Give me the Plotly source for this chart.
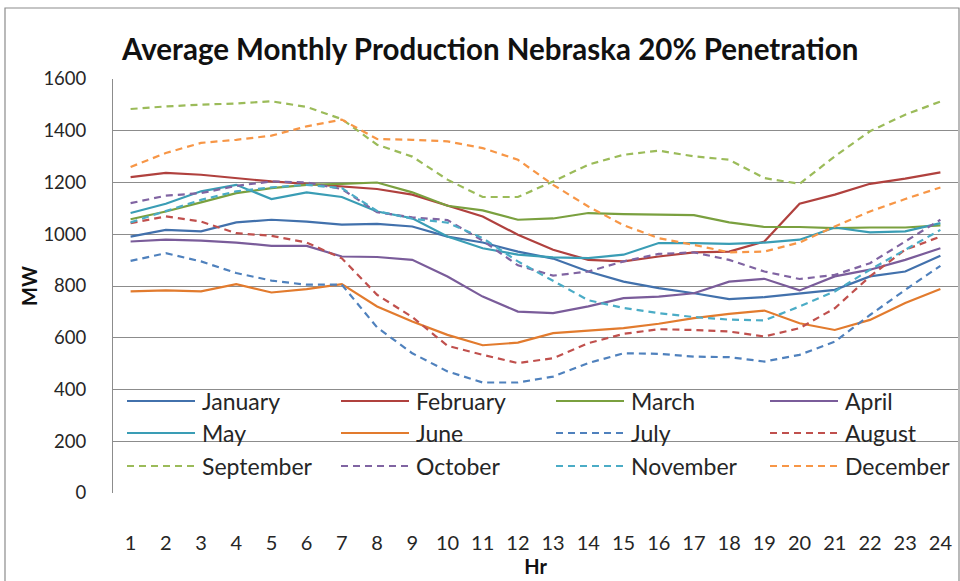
import plotly.graph_objects as go

hours = list(range(1, 25))
months = ["January", "February", "March", "April", "May", "June",
          "July", "August", "September", "October", "November", "December"]

january = [991, 1017, 1011, 1046, 1056, 1049, 1037, 1040, 1030, 991, 968, 933,
           906, 856, 817, 792, 772, 749, 757, 772, 785, 837, 856, 917]
february = [1221, 1237, 1230, 1217, 1204, 1195, 1185, 1175, 1153, 1110, 1069, 998,
            940, 901, 895, 914, 930, 933, 972, 1118, 1153, 1195, 1215, 1239]
march = [1058, 1088, 1123, 1159, 1178, 1191, 1195, 1200, 1162, 1110, 1092, 1056,
         1061, 1082, 1078, 1077, 1074, 1046, 1028, 1028, 1024, 1026, 1026, 1034]
april = [972, 979, 975, 968, 955, 955, 914, 912, 901, 837, 759, 701,
         695, 721, 753, 759, 772, 817, 828, 783, 837, 863, 901, 946]
may = [1082, 1118, 1166, 1191, 1136, 1162, 1144, 1088, 1062, 991, 946, 921,
       911, 908, 921, 966, 966, 963, 968, 979, 1026, 1007, 1011, 1043]
june = [779, 783, 779, 807, 775, 788, 807, 721, 663, 611, 571, 581,
        618, 628, 637, 654, 676, 692, 705, 656, 630, 669, 734, 788]
july = [897, 927, 895, 850, 821, 805, 805, 640, 540, 470, 427, 427,
        450, 502, 540, 538, 527, 525, 508, 534, 585, 688, 785, 878]
august = [1043, 1069, 1049, 1004, 994, 968, 907, 766, 680, 569, 534, 502,
          521, 579, 615, 633, 630, 624, 605, 637, 714, 837, 940, 991]
september = [1484, 1494, 1501, 1505, 1514, 1492, 1445, 1346, 1300, 1211, 1144, 1144,
             1204, 1269, 1307, 1323, 1301, 1288, 1217, 1195, 1301, 1398, 1462, 1513]
october = [1120, 1149, 1159, 1187, 1204, 1200, 1175, 1085, 1065, 1055, 975, 880,
           840, 856, 895, 924, 930, 901, 856, 827, 843, 888, 972, 1056]
november = [1046, 1088, 1133, 1166, 1181, 1191, 1178, 1090, 1060, 1045, 985, 895,
            820, 745, 715, 695, 680, 670, 667, 721, 779, 863, 940, 1017]
december = [1260, 1314, 1353, 1365, 1381, 1417, 1443, 1368, 1365, 1359, 1333, 1288,
            1191, 1107, 1035, 985, 959, 930, 933, 968, 1030, 1088, 1136, 1181]

series = [january, february, march, april, may, june,
          july, august, september, october, november, december]
colors = ["#4271AC", "#B0413E", "#7AA03F", "#7A5C9A", "#3A9DB5", "#E27B2E",
          "#4F81BD", "#C0504D", "#9BBB59", "#8064A2", "#4BACC6", "#F79646"]
dashes = ["solid"] * 6 + ["7px,5px"] * 6

FONT = "Lato"

fig = go.Figure()
for name, vals, col, dash in zip(months, series, colors, dashes):
    fig.add_trace(go.Scatter(
        x=hours, y=vals, name=name, mode="lines",
        line=dict(color=col, width=2.2, dash=dash),
        showlegend=False,
    ))

# plot area in pixels: x 113..958, y 79..493
L, R, T, B = 113, 958, 79, 493
W, H = R - L, B - T


def px(xp):
    return (xp - L) / W


def py(yp):
    return (B - yp) / H


shapes = []
annotations = []

# chart-area border
shapes.append(dict(type="rect", xref="paper", yref="paper",
                   x0=px(5), x1=px(959), y0=py(600), y1=py(8),
                   line=dict(color="#8C8C8C", width=1.2), layer="below"))

# legend drawn inside the plot area: 4 columns x 3 rows
col_x = [127, 341, 556, 770]
row_y = [401, 433, 466]
for i, (name, col, dash) in enumerate(zip(months, colors, dashes)):
    r, c = divmod(i, 4)
    x0 = col_x[c]
    y = row_y[r]
    shapes.append(dict(type="line", xref="paper", yref="paper",
                       x0=px(x0), x1=px(x0 + 68), y0=py(y), y1=py(y),
                       line=dict(color=col, width=2.2, dash=dash)))
    annotations.append(dict(xref="paper", yref="paper", x=px(x0 + 73), y=py(y),
                            text=name, showarrow=False, xanchor="left",
                            yanchor="middle",
                            font=dict(family=FONT, size=23, color="#262626")))

fig.update_layout(
    width=960, height=581,
    margin=dict(l=L, r=960 - R, t=T, b=581 - B),
    paper_bgcolor="white", plot_bgcolor="white",
    title=dict(text="Average Monthly Production Nebraska 20% Penetration",
               xref="container", yref="container",
               x=122 / 960, xanchor="left", y=1 - 50 / 581, yanchor="middle",
               font=dict(family=FONT, size=29.5, color="#111111", weight="bold")),
    xaxis=dict(range=[0.5, 24.5], tickmode="array", tickvals=hours,
               ticktext=[str(h) for h in hours], showgrid=False,
               showline=False, zeroline=False, ticks="",
               ticklabelstandoff=36,
               tickfont=dict(family=FONT, size=20, color="#262626"),
               title=dict(text="Hr", standoff=4,
                          font=dict(family=FONT, size=20, color="#111111",
                                    weight="bold"))),
    yaxis=dict(range=[0, 1600], tickmode="array",
               tickvals=list(range(0, 1601, 200)),
               showgrid=True, gridcolor="#8C8C8C", gridwidth=1,
               showline=True, linecolor="#8C8C8C", linewidth=1,
               zeroline=False, ticks="", ticklabelstandoff=22,
               tickfont=dict(family=FONT, size=18.5, color="#262626"),
               title=dict(text="MW", standoff=0,
                          font=dict(family=FONT, size=20, color="#111111",
                                    weight="bold"))),
    shapes=shapes,
    annotations=annotations,
)

fig.write_html("out.html")
